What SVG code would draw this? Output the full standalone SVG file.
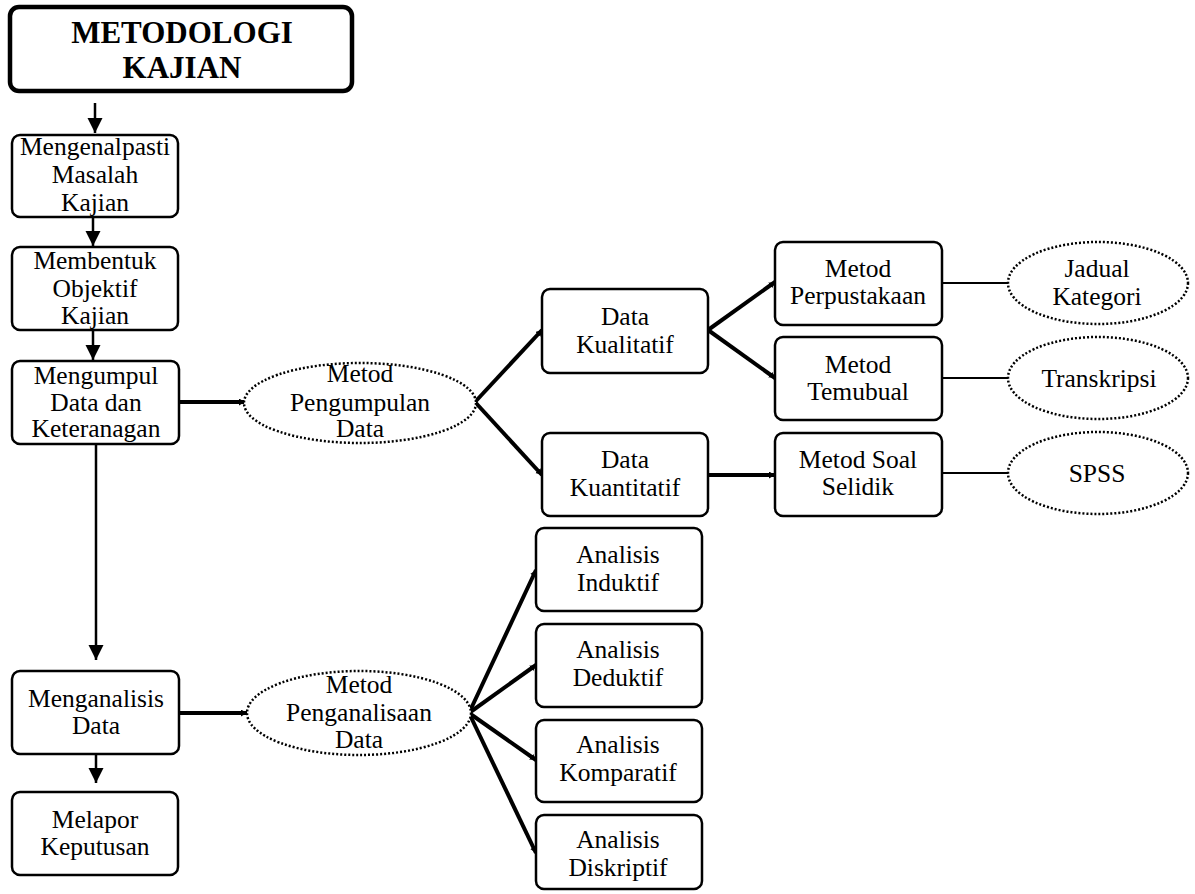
<svg xmlns="http://www.w3.org/2000/svg" width="1195" height="894" viewBox="0 0 1195 894">
<style>
  .box { fill: #fff; stroke: #000; stroke-width: 2.5; }
  .title { fill: #fff; stroke: #000; stroke-width: 4.5; }
  .ell { fill: #fff; stroke: #000; stroke-width: 2.5; stroke-dasharray: 2 2; }
  text { font-size: 25.5px; fill: #000; text-anchor: middle; }
  text.tt { font-size: 31px; font-weight: bold; }
  .v { stroke: #000; stroke-width: 2.5; fill: none; }
  .thick { stroke: #000; stroke-width: 4; fill: none; }
  .thin { stroke: #000; stroke-width: 2.2; fill: none; }
</style>
<defs>
  <marker id="big" markerUnits="userSpaceOnUse" markerWidth="16" markerHeight="16" refX="15" refY="7.5" orient="auto">
    <path d="M0,0 L15,7.5 L0,15 Z" fill="#000"/>
  </marker>
  <marker id="small" markerUnits="userSpaceOnUse" markerWidth="8" markerHeight="8" refX="6" refY="3.5" orient="auto">
    <path d="M0,0 L6,3.5 L0,7 Z" fill="#000"/>
  </marker>
</defs>

<g id="connectors">
  <line class="v" x1="95" y1="103" x2="95" y2="133" marker-end="url(#big)"/>
  <line class="v" x1="93" y1="217" x2="93" y2="246" marker-end="url(#big)"/>
  <line class="v" x1="93" y1="330" x2="93" y2="360" marker-end="url(#big)"/>
  <line class="v" x1="96" y1="444" x2="96" y2="660" marker-end="url(#big)"/>
  <line class="v" x1="96" y1="754" x2="96" y2="783" marker-end="url(#big)"/>
  <line class="thick" x1="179" y1="402" x2="245" y2="402" marker-end="url(#small)"/>
  <line class="thick" x1="179" y1="713" x2="247" y2="713" marker-end="url(#small)"/>
  <line class="thick" x1="475" y1="402" x2="542" y2="330" marker-end="url(#small)"/>
  <line class="thick" x1="475" y1="402" x2="542" y2="475" marker-end="url(#small)"/>
  <line class="thick" x1="708" y1="330" x2="775" y2="282" marker-end="url(#small)"/>
  <line class="thick" x1="708" y1="330" x2="775" y2="378" marker-end="url(#small)"/>
  <line class="thick" x1="708" y1="475" x2="775" y2="475" marker-end="url(#small)"/>
  <line class="thin" x1="942" y1="283" x2="1008" y2="283"/>
  <line class="thin" x1="942" y1="378" x2="1008" y2="378"/>
  <line class="thin" x1="942" y1="473" x2="1008" y2="473"/>
  <line class="thick" x1="469" y1="713" x2="536" y2="570" marker-end="url(#small)"/>
  <line class="thick" x1="469" y1="713" x2="536" y2="665" marker-end="url(#small)"/>
  <line class="thick" x1="469" y1="713" x2="536" y2="760" marker-end="url(#small)"/>
  <line class="thick" x1="469" y1="713" x2="536" y2="853" marker-end="url(#small)"/>
</g>

<g id="title">
  <rect class="title" x="10" y="7" width="342" height="84" rx="9"/>
  <text class="tt" font-family="Liberation Serif" x="182" y="43">METODOLOGI</text>
  <text class="tt" font-family="Liberation Serif" x="182" y="78">KAJIAN</text>
</g>

<g id="mengenalpasti">
  <rect class="box" x="12" y="135" width="166" height="82" rx="8"/>
  <text font-family="Liberation Serif" x="95" y="155">Mengenalpasti</text>
  <text font-family="Liberation Serif" x="95" y="183">Masalah</text>
  <text font-family="Liberation Serif" x="95" y="211">Kajian</text>
</g>

<g id="membentuk">
  <rect class="box" x="12" y="247" width="166" height="83" rx="8"/>
  <text font-family="Liberation Serif" x="95" y="269">Membentuk</text>
  <text font-family="Liberation Serif" x="95" y="297">Objektif</text>
  <text font-family="Liberation Serif" x="95" y="324">Kajian</text>
</g>

<g id="mengumpul">
  <rect class="box" x="12" y="361" width="167" height="83" rx="8"/>
  <text font-family="Liberation Serif" x="96" y="384">Mengumpul</text>
  <text font-family="Liberation Serif" x="96" y="411">Data dan</text>
  <text font-family="Liberation Serif" x="96" y="437">Keteranagan</text>
</g>

<g id="menganalisis">
  <rect class="box" x="12" y="671" width="167" height="83" rx="8"/>
  <text font-family="Liberation Serif" x="96" y="707">Menganalisis</text>
  <text font-family="Liberation Serif" x="96" y="734">Data</text>
</g>

<g id="melapor">
  <rect class="box" x="12" y="792" width="166" height="83" rx="8"/>
  <text font-family="Liberation Serif" x="95" y="828">Melapor</text>
  <text font-family="Liberation Serif" x="95" y="855">Keputusan</text>
</g>

<g id="metod-pengumpulan">
  <ellipse class="ell" cx="360" cy="403" rx="116" ry="40"/>
  <text font-family="Liberation Serif" x="360" y="382">Metod</text>
  <text font-family="Liberation Serif" x="360" y="411">Pengumpulan</text>
  <text font-family="Liberation Serif" x="360" y="437">Data</text>
</g>

<g id="metod-penganalisaan">
  <ellipse class="ell" cx="359" cy="713" rx="112" ry="42"/>
  <text font-family="Liberation Serif" x="359" y="693">Metod</text>
  <text font-family="Liberation Serif" x="359" y="721">Penganalisaan</text>
  <text font-family="Liberation Serif" x="359" y="748">Data</text>
</g>

<g id="data-kualitatif">
  <rect class="box" x="542" y="289" width="166" height="84" rx="8"/>
  <text font-family="Liberation Serif" x="625" y="325">Data</text>
  <text font-family="Liberation Serif" x="625" y="353">Kualitatif</text>
</g>

<g id="data-kuantitatif">
  <rect class="box" x="542" y="433" width="166" height="83" rx="8"/>
  <text font-family="Liberation Serif" x="625" y="468">Data</text>
  <text font-family="Liberation Serif" x="625" y="496">Kuantitatif</text>
</g>

<g id="metod-perpustakaan">
  <rect class="box" x="775" y="242" width="167" height="83" rx="8"/>
  <text font-family="Liberation Serif" x="858" y="277">Metod</text>
  <text font-family="Liberation Serif" x="858" y="304">Perpustakaan</text>
</g>

<g id="metod-temubual">
  <rect class="box" x="775" y="337" width="167" height="83" rx="8"/>
  <text font-family="Liberation Serif" x="858" y="373">Metod</text>
  <text font-family="Liberation Serif" x="858" y="400">Temubual</text>
</g>

<g id="metod-soal-selidik">
  <rect class="box" x="775" y="433" width="167" height="83" rx="8"/>
  <text font-family="Liberation Serif" x="858" y="468">Metod Soal</text>
  <text font-family="Liberation Serif" x="858" y="495">Selidik</text>
</g>

<g id="jadual-kategori">
  <ellipse class="ell" cx="1098" cy="283" rx="90" ry="41"/>
  <text font-family="Liberation Serif" x="1097" y="277">Jadual</text>
  <text font-family="Liberation Serif" x="1097" y="305">Kategori</text>
</g>

<g id="transkripsi">
  <ellipse class="ell" cx="1098" cy="378" rx="90" ry="41"/>
  <text font-family="Liberation Serif" x="1099" y="387">Transkripsi</text>
</g>

<g id="spss">
  <ellipse class="ell" cx="1098" cy="473" rx="90" ry="41"/>
  <text font-family="Liberation Serif" x="1097" y="482">SPSS</text>
</g>

<g id="analisis-induktif">
  <rect class="box" x="536" y="528" width="166" height="83" rx="8"/>
  <text font-family="Liberation Serif" x="618" y="563">Analisis</text>
  <text font-family="Liberation Serif" x="618" y="591">Induktif</text>
</g>

<g id="analisis-deduktif">
  <rect class="box" x="536" y="624" width="166" height="83" rx="8"/>
  <text font-family="Liberation Serif" x="618" y="658">Analisis</text>
  <text font-family="Liberation Serif" x="618" y="686">Deduktif</text>
</g>

<g id="analisis-komparatif">
  <rect class="box" x="536" y="720" width="166" height="82" rx="8"/>
  <text font-family="Liberation Serif" x="618" y="753">Analisis</text>
  <text font-family="Liberation Serif" x="618" y="781">Komparatif</text>
</g>

<g id="analisis-diskriptif">
  <rect class="box" x="536" y="815" width="166" height="74" rx="8"/>
  <text font-family="Liberation Serif" x="618" y="848">Analisis</text>
  <text font-family="Liberation Serif" x="618" y="876">Diskriptif</text>
</g>
</svg>
